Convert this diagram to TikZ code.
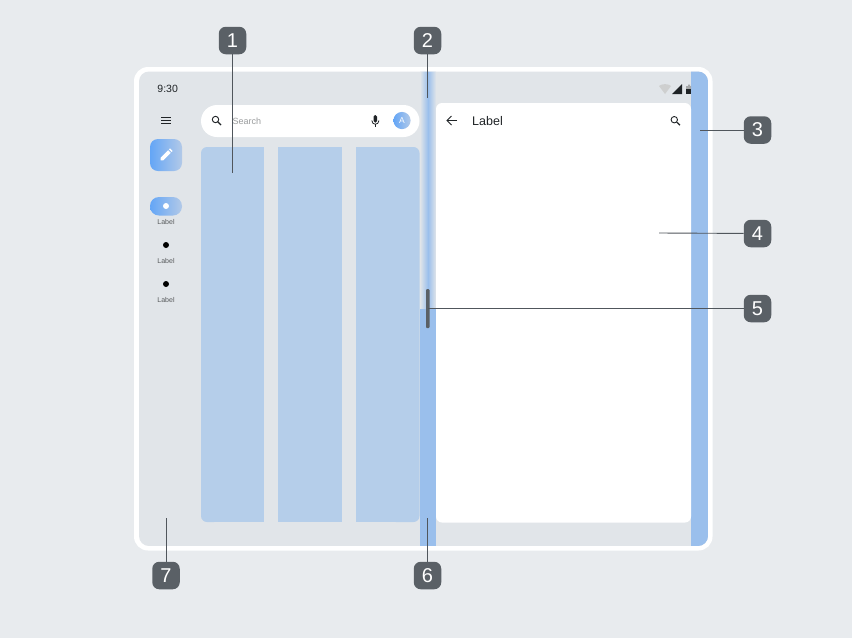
\documentclass[tikz,border=0pt]{standalone}
\usepackage{fontspec}
\setmainfont{Liberation Sans}
\definecolor{pagebg}{HTML}{E8EBEE}
\definecolor{screenbg}{HTML}{E1E5E9}
\definecolor{colblue}{HTML}{B5CEEA}
\definecolor{stripblue}{HTML}{9ABFEC}
\definecolor{gradA}{HTML}{64A6F6}
\definecolor{gradB}{HTML}{B2C9E8}
\definecolor{badgecol}{HTML}{5A6066}
\definecolor{ink}{HTML}{1F2326}
\definecolor{leader}{HTML}{50565C}
\tikzset{
  badge/.style={fill=badgecol,rounded corners=7pt,minimum width=27.5pt,minimum height=27.5pt,inner sep=0pt,text=white,font=\fontsize{20}{20}\selectfont},
  leaderline/.style={draw=leader,line width=0.9pt},
  navlabel/.style={font=\fontsize{7}{7}\selectfont,text=ink!75,inner sep=0pt},
  icon/.style={draw=ink,line width=0.9pt},
}
\begin{document}
\begin{tikzpicture}[x=1pt,y=-1pt]
\useasboundingbox (0,0) rectangle (852,638);
\fill[pagebg] (0,0) rectangle (852,638);
% device
\fill[white,rounded corners=14pt] (134,67) rectangle (712.5,550.5);
\begin{scope}
  \clip[rounded corners=10pt] (139,71.5) rectangle (708,546);
  \fill[screenbg] (139,71) rectangle (708,546);
  \fill[stripblue] (691,71) rectangle (708,546);
  \fill[stripblue] (420,308) rectangle (436,546);
  \shade[left color=screenbg,right color=stripblue] (420,71) rectangle (428,308);
  \shade[left color=stripblue,right color=screenbg] (428,71) rectangle (436,308);
\end{scope}
% left columns
\fill[colblue,rounded corners=6pt] (201,147) rectangle (220,522);
\fill[colblue] (210,147) rectangle (264,522);
\fill[colblue] (278.3,147) rectangle (342,522);
\fill[colblue] (356,147) rectangle (400,522);
\fill[colblue,rounded corners=6pt] (390,147) rectangle (419.5,522);
% right pane
\fill[white,rounded corners=6pt] (436,103) rectangle (691,522.5);
% search bar
\fill[white,rounded corners=16pt] (201,105) rectangle (419.5,137);
\node[anchor=west,inner sep=0pt,text=ink!45,font=\fontsize{9}{9}\selectfont] (searchtext) at (232.5,120.8) {Search};
\draw[icon] (215.5,119.5) circle (3.2);
\draw[icon,line width=1.2pt] (217.8,121.8) -- (221,125);
% mic
\fill[ink,rounded corners=1.5pt] (373.7,115) rectangle (377,122.5);
\draw[ink,line width=0.8pt] (371.8,120.5) .. controls (372,125.5) and (378.7,125.5) .. (379,120.5);
\draw[ink,line width=0.8pt] (375.35,124) -- (375.35,126.5);
% avatar
\shade[left color=gradA,right color=gradB] (402,120.5) circle (8.6);
\node[inner sep=0pt,text=white,font=\fontsize{8.5}{8.5}\selectfont] (avatar) at (402,120.6) {A};
% status
\node[anchor=center,inner sep=0pt,font=\fontsize{10.5}{10.5}\selectfont,text=ink] (clock) at (167.7,89.3) {9:30};
\fill[ink!22] (659,86) .. controls (662,83.5) and (668,83.5) .. (671,86) -- (665,94) -- cycle;
\fill[ink] (682,84) -- (682,94) -- (672,94) -- cycle;
\fill[ink!40] (686,86) -- (688,86) -- (688,84.5) -- (690,84.5) -- (690,86) -- (691,86) -- (691,89) -- (686,89) -- cycle;
\fill[ink] (686,89) rectangle (691,94);
% menu
\foreach \yy in {117.3,120.5,123.7}{\draw[ink,line width=0.9pt] (161,\yy) -- (171,\yy);}
% FAB
\shade[left color=gradA,right color=gradB,rounded corners=8pt] (150,139) rectangle (182,171);
\fill[white] (160.6,157.8) -- (168.2,150.2) -- (170.8,152.8) -- (163.2,160.4) -- (160.6,160.4) -- cycle;
\fill[white] (169,149.4) -- (170,148.4) -- (172.6,151) -- (171.6,152) -- cycle;
% nav
\shade[left color=gradA,right color=gradB,rounded corners=9pt] (150,197) rectangle (182,215.5);
\fill[white] (166,206) circle (3);
\fill[black] (166,245) circle (3);
\fill[black] (166,284) circle (3);
\node[navlabel] (lab1) at (166,222) {Label};
\node[navlabel] (lab2) at (166,261) {Label};
\node[navlabel] (lab3) at (166,299.7) {Label};
% app bar
\draw[ink,line width=0.9pt] (457,120.5) -- (447,120.5);
\draw[ink,line width=0.9pt] (451.5,116) -- (447,120.5) -- (451.5,125);
\node[anchor=west,inner sep=0pt,text=ink,font=\fontsize{12.5}{12.5}\selectfont] (title) at (472,120.8) {Label};
\draw[icon] (674.3,119.7) circle (3.2);
\draw[icon,line width=1.2pt] (676.6,122) -- (680,125.2);
% handle
\fill[badgecol,rounded corners=1pt] (426,289) rectangle (429.5,328);
% leaders end points
\coordinate (e1) at (232.5,173);
\coordinate (e2) at (427.5,98);
\coordinate (e3) at (700,130);
\coordinate (e4) at (659,233);
\coordinate (e5) at (428,308.5);
\coordinate (e6) at (427.5,518);
\coordinate (e7) at (166,518);
% badges
\node[badge] (b1) at (232.5,40.5) {1};
\node[badge] (b2) at (427.5,40.5) {2};
\node[badge] (b3) at (757.5,130) {3};
\node[badge] (b4) at (757.5,233.5) {4};
\node[badge] (b5) at (757.5,308.5) {5};
\node[badge] (b6) at (427.5,575.5) {6};
\node[badge] (b7) at (166,575.5) {7};
\draw[leaderline] (b1) -- (e1);
\draw[leaderline] (b2) -- (e2);
\draw[leaderline] (b3) -- (e3);
\draw[leaderline] (b4) -- (e4);
\draw[leaderline] (b5) -- (e5);
\draw[leaderline] (b6) -- (e6);
\draw[leaderline] (b7) -- (e7);
\end{tikzpicture}
\end{document}
